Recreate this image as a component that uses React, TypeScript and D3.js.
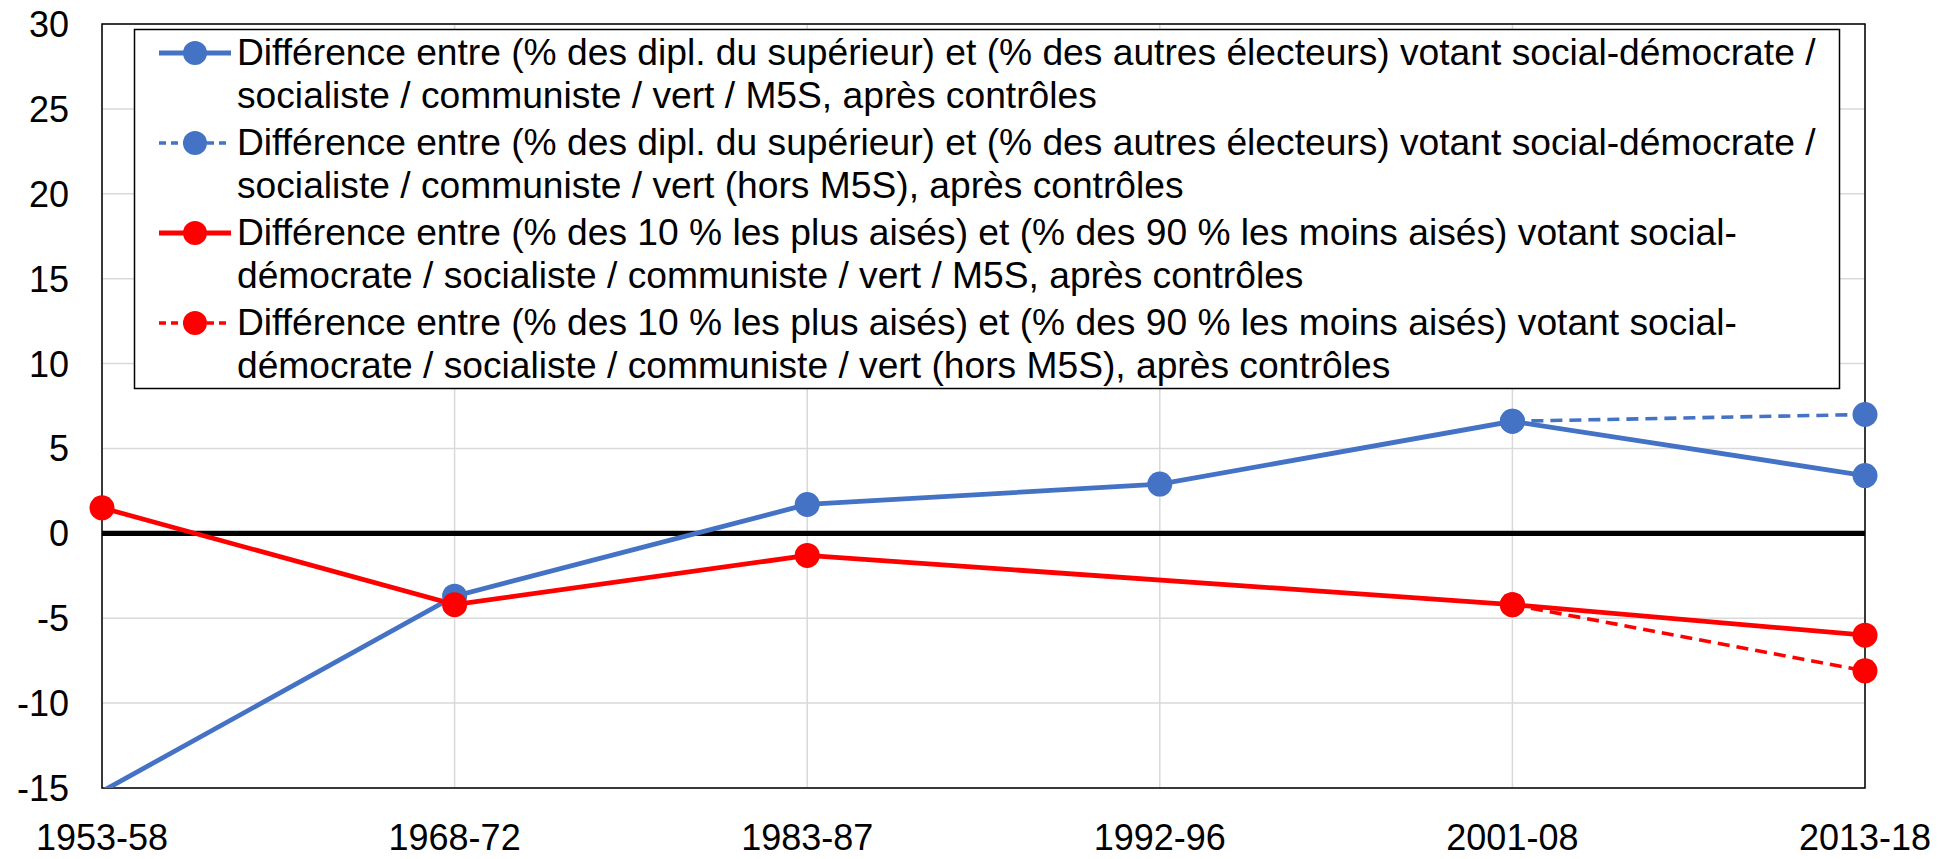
import React from "react";
import * as d3 from "d3";

const categories = ["1953-58", "1968-72", "1983-87", "1992-96", "2001-08", "2013-18"];
const educSolid: (number | null)[] = [-15.2, -3.7, 1.7, 2.9, 6.6, 3.4];
const educDashed: (number | null)[] = [null, null, null, null, 6.6, 7.0];
const incomeSolid: (number | null)[] = [1.5, -4.2, -1.3, null, -4.2, -6.0];
const incomeDashed: (number | null)[] = [null, null, null, null, -4.2, -8.1];
const yTicks = [-15, -10, -5, 0, 5, 10, 15, 20, 25, 30];

const legendLabels: string[][] = [
  [
    "Différence entre (% des dipl. du supérieur) et (% des autres électeurs) votant social-démocrate /",
    "socialiste / communiste / vert / M5S, après contrôles",
  ],
  [
    "Différence entre (% des dipl. du supérieur) et (% des autres électeurs) votant social-démocrate /",
    "socialiste / communiste / vert (hors M5S), après contrôles",
  ],
  [
    "Différence entre (% des 10 % les plus aisés) et (% des 90 % les moins aisés) votant social-",
    "démocrate / socialiste / communiste / vert / M5S, après contrôles",
  ],
  [
    "Différence entre (% des 10 % les plus aisés) et (% des 90 % les moins aisés) votant social-",
    "démocrate / socialiste / communiste / vert (hors M5S), après contrôles",
  ],
];

const BLUE = "#4472C4";
const RED = "#FF0000";

const series = [
  { values: educDashed, color: BLUE, dashed: true },
  { values: educSolid, color: BLUE, dashed: false },
  { values: incomeDashed, color: RED, dashed: true },
  { values: incomeSolid, color: RED, dashed: false },
];
const legendStyles = [
  { color: BLUE, dashed: false },
  { color: BLUE, dashed: true },
  { color: RED, dashed: false },
  { color: RED, dashed: true },
];

const W = 1953;
const H = 859;
const M = { left: 102, right: 1865, top: 24, bottom: 788 };
const FONT = "'Liberation Sans', Arial, sans-serif";

export default function App() {
  const x = d3
    .scalePoint<string>()
    .domain(categories)
    .range([M.left, M.right]);
  const y = d3.scaleLinear().domain([-15, 30]).range([M.bottom, M.top]);

  const lineGen = d3
    .line<{ c: string; v: number }>()
    .x((d) => x(d.c) as number)
    .y((d) => y(d.v));

  const pts = (vals: (number | null)[]) =>
    categories
      .map((c, i) => ({ c, v: vals[i] as number }))
      .filter((d) => d.v !== null && d.v !== undefined);

  const legendX = 134.5;
  const legendY = 29.5;
  const legendW = 1705;
  const legendH = 359;
  const entryStride = 90;
  const lineGap = 43;
  const firstBaseline = 65;

  return (
    <svg
      width={W}
      height={H}
      style={{ position: "absolute", left: 0, top: 0, background: "#fff" }}
      fontFamily={FONT}
    >
      <defs>
        <clipPath id="plotClip">
          <rect x={M.left} y={M.top} width={M.right - M.left} height={M.bottom - M.top} />
        </clipPath>
      </defs>
      <rect x={0} y={0} width={W} height={H} fill="#fff" />

      {/* horizontal gridlines */}
      {yTicks.map((t) => (
        <line
          key={"h" + t}
          x1={M.left}
          x2={M.right}
          y1={y(t)}
          y2={y(t)}
          stroke="#d9d9d9"
          strokeWidth={1.5}
        />
      ))}
      {/* vertical gridlines */}
      {categories.map((c) => (
        <line
          key={"v" + c}
          x1={x(c)}
          x2={x(c)}
          y1={M.top}
          y2={M.bottom}
          stroke="#d9d9d9"
          strokeWidth={1.5}
        />
      ))}

      {/* plot border */}
      <rect
        x={M.left}
        y={M.top}
        width={M.right - M.left}
        height={M.bottom - M.top}
        fill="none"
        stroke="#000"
        strokeWidth={1.5}
      />

      {/* zero line */}
      <line x1={M.left} x2={M.right} y1={y(0)} y2={y(0)} stroke="#000" strokeWidth={5.3} />

      {/* series lines (clipped to plot area) */}
      <g clipPath="url(#plotClip)">
        {series.map((s, i) => (
          <path
            key={"l" + i}
            d={lineGen(pts(s.values)) || ""}
            fill="none"
            stroke={s.color}
            strokeWidth={s.dashed ? 3.6 : 4.8}
            strokeDasharray={s.dashed ? "12 7" : undefined}
          />
        ))}
      </g>
      {/* markers (only for in-range values, not clipped) */}
      {series.map((s, i) =>
        pts(s.values)
          .filter((d) => d.v >= -15 && d.v <= 30)
          .map((d) => (
            <circle
              key={"m" + i + d.c}
              cx={x(d.c)}
              cy={y(d.v)}
              r={12.5}
              fill={s.color}
            />
          ))
      )}

      {/* y tick labels */}
      {yTicks.map((t) => (
        <text
          key={"yt" + t}
          x={69}
          y={y(t)}
          dy="0.36em"
          textAnchor="end"
          fontSize={36}
          fill="#000"
        >
          {t}
        </text>
      ))}
      {/* x tick labels */}
      {categories.map((c) => (
        <text
          key={"xt" + c}
          x={x(c)}
          y={850}
          textAnchor="middle"
          fontSize={36}
          fill="#000"
        >
          {c}
        </text>
      ))}

      {/* legend */}
      <rect
        x={legendX}
        y={legendY}
        width={legendW}
        height={legendH}
        fill="#fff"
        stroke="#000"
        strokeWidth={1.5}
      />
      {legendLabels.map((lines, i) => {
        const base = firstBaseline + i * entryStride;
        const sy = base - 12;
        const st = legendStyles[i];
        return (
          <g key={"lg" + i}>
            <line
              x1={159}
              x2={231}
              y1={sy}
              y2={sy}
              stroke={st.color}
              strokeWidth={st.dashed ? 3.6 : 4.8}
              strokeDasharray={st.dashed ? "7 5" : undefined}
            />
            <circle cx={195} cy={sy} r={12} fill={st.color} />
            {lines.map((ln, j) => (
              <text
                key={j}
                x={237}
                y={base + j * lineGap}
                fontSize={37.2}
                fill="#000"
              >
                {ln}
              </text>
            ))}
          </g>
        );
      })}
    </svg>
  );
}
